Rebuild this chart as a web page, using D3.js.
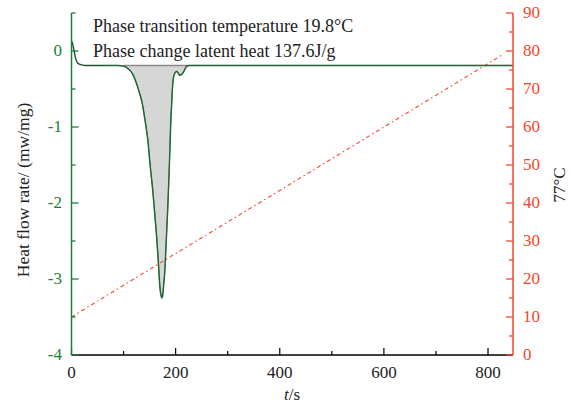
<!DOCTYPE html>
<html><head><meta charset="utf-8">
<script src="https://cdn.jsdelivr.net/npm/d3@7"></script>
<style>body{margin:0;background:#fff}svg{display:block}text{font-family:"Liberation Serif","DejaVu Serif",serif}</style>
</head><body><svg id="c" width="572" height="406"></svg>
<script>
// heat flow (mW/mg) vs time (s)
const heatT = [0, 2, 5, 8, 12, 18, 25, 35, 60, 90, 100, 110, 118, 125.5, 130, 135, 141, 146.6, 151, 156, 160, 164, 167, 169.7, 172, 173.5, 175.5, 177, 179, 182, 185, 188, 190.6, 192.5, 194.6, 196.5, 198.5, 202, 205, 208, 214, 221.5, 227, 240, 400, 600, 848];
const heatV = [0.13, 0.1, 0.0, -0.1, -0.16, -0.18, -0.19, -0.19, -0.19, -0.19, -0.2, -0.24, -0.31, -0.44, -0.54, -0.66, -0.9, -1.17, -1.5, -1.83, -2.15, -2.49, -2.8, -3.1, -3.22, -3.25, -3.2, -3.08, -2.92, -2.5, -2.05, -1.5, -0.95, -0.68, -0.42, -0.33, -0.29, -0.27, -0.29, -0.32, -0.29, -0.2, -0.19, -0.19, -0.19, -0.19, -0.19];
const baseline = -0.19;
const fillStart = 100, fillEnd = 227;
// temperature ramp (°C) vs time (s)
const tempT = [0, 200, 400, 600, 830];
const tempV = [10, 26.7, 43.3, 60, 79.2];
const xTicks = [0, 200, 400, 600, 800];
const xMinor = [100, 300, 500, 700];
const yLeftTicks = [0, -1, -2, -3, -4];
const yLeftMinor = [0.5, -0.5, -1.5, -2.5, -3.5];
const yRightTicks = [0, 10, 20, 30, 40, 50, 60, 70, 80, 90];
const yRightMinor = [5, 15, 25, 35, 45, 55, 65, 75, 85];
const notes = ["Phase transition temperature 19.8°C", "Phase change latent heat 137.6J/g"];

const svg = d3.select("#c");
const L = 71.5, R = 513, T = 13, B = 355;
const green = "#1b7d3d", red = "#f5462a", curveCol = "#1f4f2c";
const x = d3.scaleLinear().domain([0, 848]).range([L, R]);
const yl = d3.scaleLinear().domain([-4, 0.5]).range([B, T]);
const yr = d3.scaleLinear().domain([0, 90]).range([B, T]);

const heat = heatT.map((t, i) => ({t, v: heatV[i]}));
const fillPts = heat.filter(d => d.t >= fillStart && d.t <= fillEnd);
// shaded area
svg.append("path").datum(fillPts)
  .attr("d", d3.area().x(d => x(d.t)).y0(yl(baseline)).y1(d => yl(d.v)).curve(d3.curveMonotoneX))
  .attr("fill", "#d6d6d6");
svg.append("line").attr("x1", x(fillStart)).attr("x2", x(fillEnd)).attr("y1", yl(baseline)).attr("y2", yl(baseline))
  .attr("stroke", "#8a8a8a").attr("stroke-width", 1.5);

// temperature line
const temp = tempT.map((t, i) => ({t, v: tempV[i]}));
svg.append("path").datum(temp)
  .attr("d", d3.line().x(d => x(d.t)).y(d => yr(d.v)))
  .attr("fill", "none").attr("stroke", red).attr("stroke-width", 1.1).attr("stroke-dasharray", "4,3,1.5,3");

// heat curve
svg.append("path").datum(heat)
  .attr("d", d3.line().x(d => x(d.t)).y(d => yl(d.v)).curve(d3.curveMonotoneX))
  .attr("fill", "none").attr("stroke", curveCol).attr("stroke-width", 1.4);
svg.append("path").datum(heat.filter(d => d.t >= 40))
  .attr("d", d3.line().x(d => x(d.t)).y(d => yl(d.v)).curve(d3.curveMonotoneX))
  .attr("fill", "none").attr("stroke", green).attr("stroke-width", 0.8).attr("opacity", 0.8);

// x axis
const xa = svg.append("g").attr("transform", `translate(0,${B})`);
xa.append("line").attr("x1", L).attr("x2", R).attr("stroke", "#000").attr("stroke-width", 1.3);
xa.selectAll(".mj").data(xTicks).join("line").attr("x1", d => x(d)).attr("x2", d => x(d)).attr("y1", 0).attr("y2", -7).attr("stroke", "#000").attr("stroke-width", 1.2);
xa.selectAll(".mn").data(xMinor).join("line").attr("x1", d => x(d)).attr("x2", d => x(d)).attr("y1", 0).attr("y2", -4).attr("stroke", "#000").attr("stroke-width", 1.2);
xa.selectAll("text").data(xTicks).join("text").attr("x", d => x(d)).attr("y", 23).attr("text-anchor", "middle")
  .attr("font-size", 17).attr("fill", "#222").text(d => d);
const xl = svg.append("text").attr("x", 292).attr("y", 400).attr("text-anchor", "middle").attr("font-size", 17).attr("fill", "#222");
xl.append("tspan").attr("font-style", "italic").text("t");
xl.append("tspan").text("/s");

// left axis
const la = svg.append("g");
la.append("line").attr("x1", L).attr("x2", L).attr("y1", T).attr("y2", B).attr("stroke", green).attr("stroke-width", 1.5);
la.selectAll(".mj").data(yLeftTicks).join("line").attr("x1", L).attr("x2", L + 7).attr("y1", d => yl(d)).attr("y2", d => yl(d)).attr("stroke", green).attr("stroke-width", 1.3);
la.selectAll(".mn").data(yLeftMinor).join("line").attr("x1", L).attr("x2", L + 4).attr("y1", d => yl(d)).attr("y2", d => yl(d)).attr("stroke", green).attr("stroke-width", 1.3);
la.selectAll("text").data(yLeftTicks).join("text").attr("x", 62).attr("y", d => yl(d) + 5).attr("text-anchor", "end")
  .attr("font-size", 17).attr("fill", green).text(d => d);
svg.append("text").attr("transform", "translate(29,190) rotate(-90)").attr("text-anchor", "middle")
  .attr("font-size", 17.5).attr("fill", "#222").text("Heat flow rate/ (mw/mg)");

// right axis
const ra = svg.append("g");
ra.append("line").attr("x1", R).attr("x2", R).attr("y1", T).attr("y2", B).attr("stroke", red).attr("stroke-width", 1.5);
ra.selectAll(".mj").data(yRightTicks).join("line").attr("x1", R).attr("x2", R - 7).attr("y1", d => yr(d)).attr("y2", d => yr(d)).attr("stroke", red).attr("stroke-width", 1.3);
ra.selectAll(".mn").data(yRightMinor).join("line").attr("x1", R).attr("x2", R - 4).attr("y1", d => yr(d)).attr("y2", d => yr(d)).attr("stroke", red).attr("stroke-width", 1.3);
ra.selectAll("text").data(yRightTicks).join("text").attr("x", R + 10).attr("y", d => yr(d) + 5).attr("text-anchor", "start")
  .attr("font-size", 17).attr("fill", red).text(d => d);
svg.append("text").attr("transform", "translate(565,185) rotate(-90)").attr("text-anchor", "middle")
  .attr("font-size", 17).attr("fill", "#222").text("77°C");

// notes
svg.selectAll(".note").data(notes).join("text").attr("x", 93).attr("y", (d, i) => 32 + i * 25)
  .attr("font-size", 18).attr("fill", "#222").text(d => d);
</script></body></html>
